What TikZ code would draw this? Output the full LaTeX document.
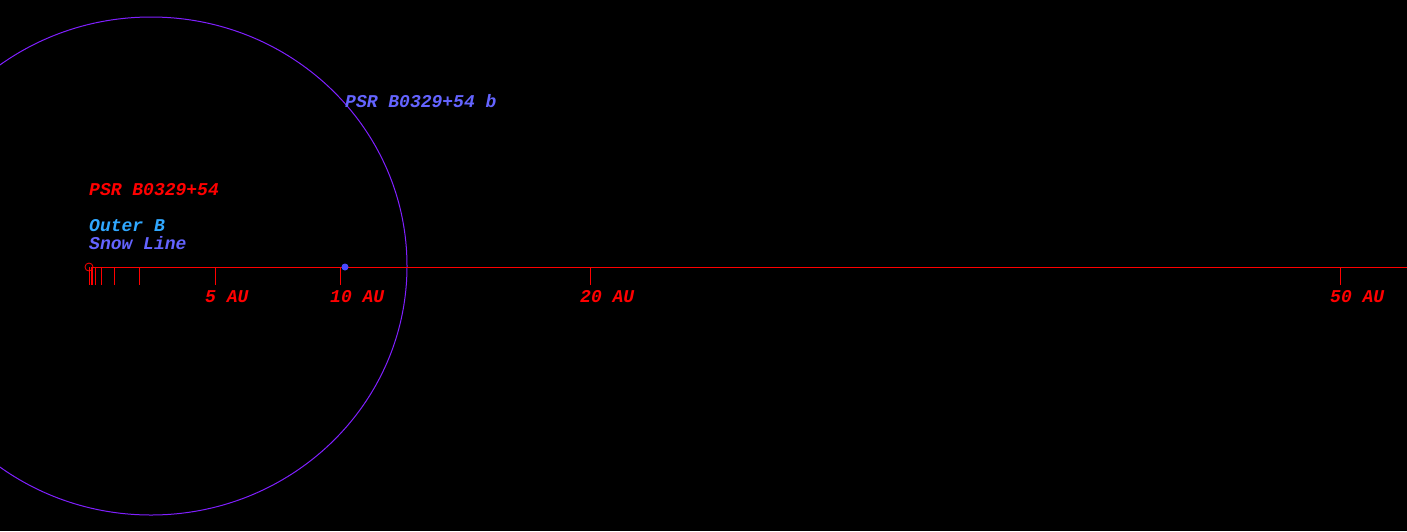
\documentclass[tikz,border=0pt]{standalone}
\usepackage{fontspec}
\newfontfamily\monofnt{Liberation Mono}
\definecolor{orbitviolet}{HTML}{8020FF}
\definecolor{labelblue}{HTML}{6464FF}
\definecolor{outerblue}{HTML}{30A8FF}
\definecolor{planetblue}{HTML}{4848FF}
\tikzset{
  lbl/.style={anchor=base west, inner sep=0pt, font=\monofnt\bfseries\itshape\fontsize{18}{18}\selectfont},
  redlbl/.style={lbl, text=red},
  tickmark/.style={draw=red, line width=1pt},
}
\begin{document}
\begin{tikzpicture}[x=1pt, y=-1pt]
\fill[black] (0,0) rectangle (1407,531);
\useasboundingbox (0,0) rectangle (1407,531);
\clip (0,0) rectangle (1407,531);
% orbit
\draw[orbitviolet, line width=1pt] (151,266) ellipse [x radius=256, y radius=249];
% axis
\node[circle, draw=red, line width=0.8pt, minimum size=8pt, inner sep=0pt] (star) at (89,267) {};
\coordinate (axisend) at (1407,267);
\draw[red, line width=1pt] (star.east) -- (axisend);
% ticks
\foreach \x in {89,91,92.5,95,101,114,139,215,340,590,1340}
  \draw[tickmark] (\x,267) -- (\x,285);
\draw[tickmark] (89,267) -- (89,285);
% planet
\node[circle, fill=planetblue, minimum size=7pt, inner sep=0pt] (planet) at (345,267) {};
% labels
\node[redlbl] (starlbl) at (89,195) {PSR B0329+54};
\node[lbl, text=outerblue] (outerb) at (89,231) {Outer B};
\node[lbl, text=labelblue] (snow) at (89,249) {Snow Line};
\node[lbl, text=labelblue] (planetlbl) at (345,107) {PSR B0329+54 b};
\node[redlbl] (au5) at (205,302) {5 AU};
\node[redlbl] (au10) at (330,302) {10 AU};
\node[redlbl] (au20) at (580,302) {20 AU};
\node[redlbl] (au50) at (1330,302) {50 AU};
\end{tikzpicture}
\end{document}
